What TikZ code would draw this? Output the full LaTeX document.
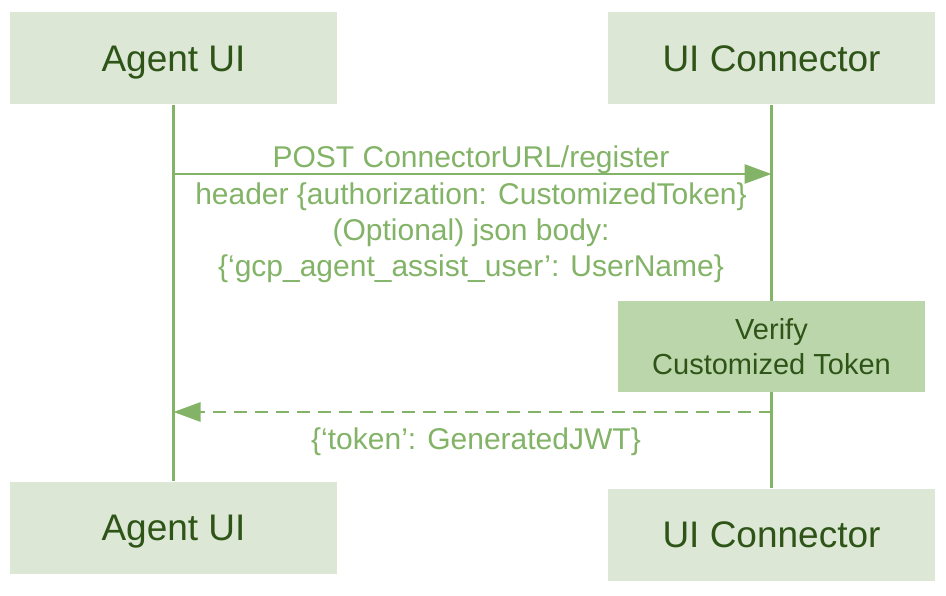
\documentclass[tikz,border=0pt]{standalone}
\usepackage{fontspec}
\setmainfont{Liberation Sans}
\usepackage{xcolor}
\usetikzlibrary{arrows.meta}
\definecolor{boxfill}{HTML}{DCE8D5}
\definecolor{verifyfill}{HTML}{BBD6AA}
\definecolor{darktext}{HTML}{2E5418}
\definecolor{lifegreen}{HTML}{82B366}
\tikzset{>={Triangle[length=27pt,width=19pt]}}

\begin{document}
\begin{tikzpicture}[x=1pt, y=-1pt,
            actor/.style={rectangle, fill=boxfill, draw=none, minimum width=327pt,
            minimum height=92pt, text depth=0pt, text=darktext, font=\fontsize{37}{44}\selectfont},
            verify/.style={rectangle, fill=verifyfill, draw=none, minimum width=307pt,
            minimum height=91pt, text=darktext, align=center, font=\fontsize{29}{35}\selectfont},
            life/.style={draw=lifegreen, line width=2.8pt},
            msg/.style={draw=lifegreen, line width=2.8pt, ->},
            msgtext/.style={text=lifegreen, align=center, inner sep=0pt, font=\fontsize{30}{36}\selectfont}]
            \useasboundingbox (0,0) rectangle (946,596);
            %% Participants
            \node[actor] (AUtop) at (173.5,58.5) {Agent UI};
            \node[actor] (UCtop) at (771.5,58.5) {UI Connector};
            \node[actor] (AUbot) at (173.5,527.5) {Agent UI};
            \node[actor] (UCbot) at (771.5,534.5) {UI Connector};
            %% Lifelines
            \path [life] (AUtop) -- (AUbot);
            \node[verify] (check) at (771.5,346.5) {Verify\\Customized Token};
            \path [life] (UCtop) -- (check);
            \path [life] (check) -- (UCbot);
            %% Register request
            \coordinate (reqA) at (173.5,174);
            \coordinate (reqU) at (771.5,174);
            \path [msg] (reqA) -- (reqU);
            \node[msgtext] (reqTop) at (471,160) {POST ConnectorURL/register};
            \node[msgtext] (reqBody) at (471,232.5) {header \{authorization: CustomizedToken\}\\(Optional) json body:\\\{‘gcp\_agent\_assist\_user’: UserName\}};
            %% Token reply
            \coordinate (repU) at (771.5,412);
            \coordinate (repA) at (173.5,412);
            \path [msg, dash pattern=on 13pt off 8pt] (repU) -- (repA);
            \node[msgtext] (repText) at (476,442) {\{‘token’: GeneratedJWT\}};
\end{tikzpicture}
\end{document}
